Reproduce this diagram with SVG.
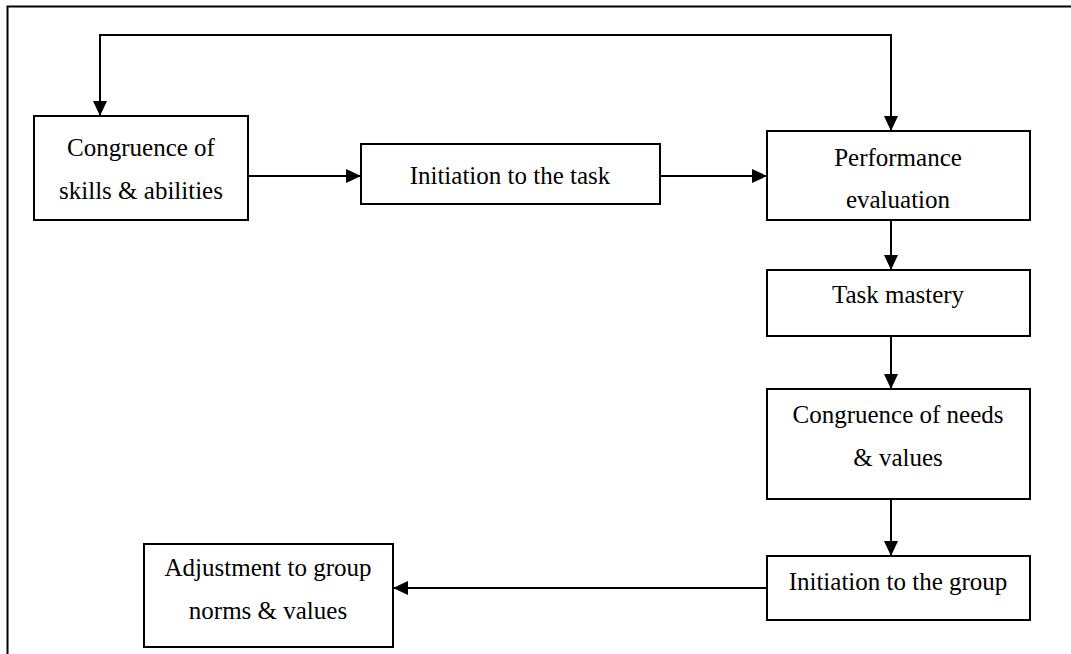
<svg xmlns="http://www.w3.org/2000/svg" width="1071" height="654" viewBox="0 0 1071 654">
<defs>
<marker id="ah" markerWidth="16" markerHeight="14" refX="15" refY="7" orient="auto" markerUnits="userSpaceOnUse">
<path d="M0,0 L15,7 L0,14 Z" fill="#000"/>
</marker>
<style>
.box{fill:#fff;stroke:#000;stroke-width:2}
.t{font-family:"Liberation Serif","Times New Roman",serif;font-size:25px;fill:#000;text-anchor:middle}
.c{fill:none;stroke:#000;stroke-width:2}
</style>
</defs>
<rect width="1071" height="654" fill="#fff"/>
<path d="M7.5,654 L7.5,6.5 L1071,6.5" fill="none" stroke="#000" stroke-width="2"/>
<g id="n1"><rect class="box" x="34" y="116" width="214" height="104"/><text class="t" x="141" y="156">Congruence of</text><text class="t" x="141" y="199">skills &amp; abilities</text></g>
<g id="n2"><rect class="box" x="361" y="144" width="299" height="60"/><text class="t" x="510" y="184">Initiation to the task</text></g>
<g id="n3"><rect class="box" x="767" y="131" width="263" height="89"/><text class="t" x="898" y="166">Performance</text><text class="t" x="898" y="208">evaluation</text></g>
<g id="n4"><rect class="box" x="767" y="270" width="263" height="66"/><text class="t" x="898" y="303">Task mastery</text></g>
<g id="n5"><rect class="box" x="767" y="389" width="263" height="110"/><text class="t" x="898" y="423">Congruence of needs</text><text class="t" x="898" y="466">&amp; values</text></g>
<g id="n6"><rect class="box" x="767" y="556" width="263" height="64"/><text class="t" x="898" y="590">Initiation to the group</text></g>
<g id="n7"><rect class="box" x="144" y="544" width="249" height="103"/><text class="t" x="268" y="576">Adjustment to group</text><text class="t" x="268" y="619">norms &amp; values</text></g>
<g id="connectors">
<path class="c" d="M891,116 L891,35 L100,35 L100,116" marker-end="url(#ah)"/>
<path class="c" d="M891,35 L891,131" marker-end="url(#ah)"/>
<path class="c" d="M248,176 L361,176" marker-end="url(#ah)"/>
<path class="c" d="M660,176 L767,176" marker-end="url(#ah)"/>
<path class="c" d="M891,220 L891,270" marker-end="url(#ah)"/>
<path class="c" d="M891,336 L891,389" marker-end="url(#ah)"/>
<path class="c" d="M891,499 L891,556" marker-end="url(#ah)"/>
<path class="c" d="M767,588 L393,588" marker-end="url(#ah)"/>
</g>
</svg>
